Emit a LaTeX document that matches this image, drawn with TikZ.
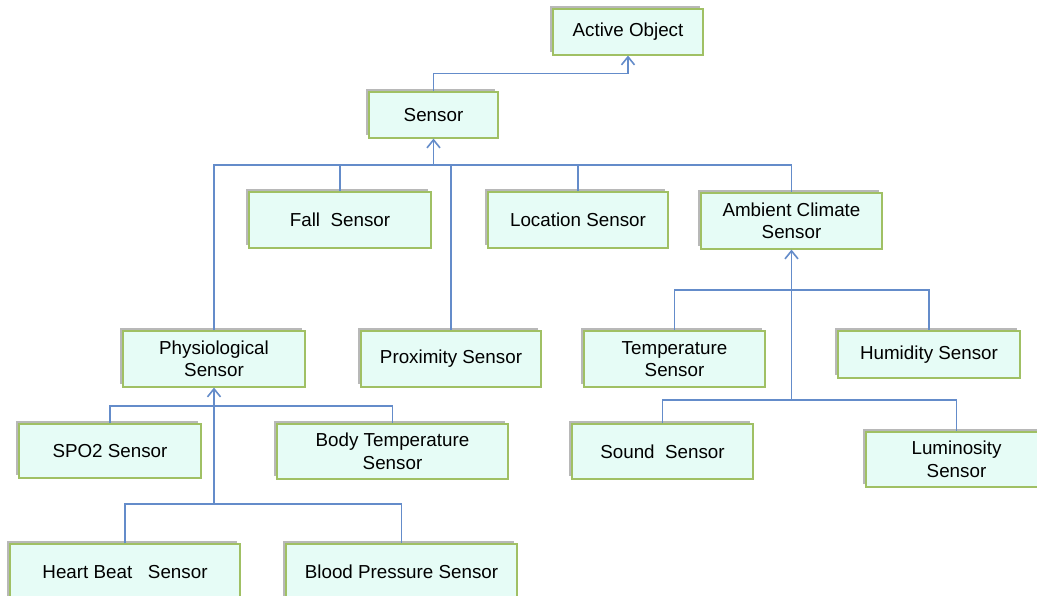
\documentclass[tikz,border=0pt]{standalone}
\usepackage{fontspec}
\setmainfont{Liberation Sans}
\usetikzlibrary{arrows.meta,shadows}
\definecolor{boxfill}{RGB}{230,252,246}
\definecolor{boxline}{RGB}{160,192,100}
\definecolor{conn}{RGB}{100,140,202}
\tikzset{
  box/.style={draw=boxline, line width=1.2pt, fill=boxfill, inner sep=2pt, align=center,
    font=\fontsize{18.8}{22.5}\selectfont,
    drop shadow={shadow xshift=-3pt, shadow yshift=3pt, fill=black!55, draw=none, opacity=0.5}},
  link/.style={draw=conn, line width=1.4pt},
  arr/.style={link, -{Straight Barb[length=8pt,width=13pt,line width=1.6pt]}}
}
\begin{document}
\begin{tikzpicture}[x=1pt,y=-1pt]
\clip (0,0) rectangle (1037,596);
\fill[white] (0,0) rectangle (1037,596);
% nodes
\node[box, minimum width=150pt, minimum height=46pt] (act) at (628,32) {Active Object};
\node[box, minimum width=129pt, minimum height=46pt] (sen) at (433.5,115) {Sensor};
\node[box, minimum width=182pt, minimum height=56pt] (fall) at (340,220) {Fall\ \ Sensor};
\node[box, minimum width=180pt, minimum height=56pt] (loc) at (578,220) {Location Sensor};
\node[box, minimum width=181pt, minimum height=56pt] (amb) at (791.5,221) {Ambient Climate\\Sensor};
\node[box, minimum width=182pt, minimum height=56pt] (phy) at (214,359) {Physiological\\Sensor};
\node[box, minimum width=180pt, minimum height=56pt] (prox) at (451,359) {Proximity Sensor};
\node[box, minimum width=181pt, minimum height=56pt] (temp) at (674.5,359) {Temperature\\Sensor};
\node[box, minimum width=182pt, minimum height=47pt] (hum) at (929,354.5) {Humidity Sensor};
\node[box, minimum width=181pt, minimum height=55pt] (sound) at (662.5,451.5) {Sound\ \ Sensor};
\node[box, minimum width=181pt, minimum height=55pt] (lum) at (956.5,459.5) {Luminosity\\Sensor};
\node[box, minimum width=182pt, minimum height=54pt] (spo) at (110,451) {SPO2 Sensor};
\node[box, minimum width=231pt, minimum height=55pt] (body) at (392.5,451.5) {Body Temperature\\Sensor};
\node[box, minimum width=230pt, minimum height=56pt] (hb) at (125,572) {Heart Beat\ \ \ Sensor};
\node[box, minimum width=231pt, minimum height=56pt] (bp) at (401.5,572) {Blood Pressure Sensor};
% Sensor -> Active Object
\draw[arr] (sen.north) -- ++(0,-18) -| (act.south);
% main bus
\draw[link] (phy.north) -- (phy.north |- 0,165) -- (amb.north |- 0,165) -- (amb.north);
\draw[link] (fall.north) -- (fall.north |- 0,165);
\draw[link] (loc.north) -- (loc.north |- 0,165);
\draw[link] (prox.north) -- (prox.north |- 0,165);
\draw[arr] (sen.south |- 0,165) -- (sen.south);
% ambient climate
\draw[arr] (amb.south |- 0,400) -- (amb.south);
\draw[link] (temp.north) |- (hum.north |- 0,290) -- (hum.north);
\draw[link] (sound.north) |- (lum.north |- 0,400) -- (lum.north);
% physiological
\draw[arr] (phy.south |- 0,504) -- (phy.south);
\draw[link] (spo.north) |- (body.north |- 0,406) -- (body.north);
\draw[link] (hb.north) |- (bp.north |- 0,504) -- (bp.north);
\end{tikzpicture}
\end{document}
